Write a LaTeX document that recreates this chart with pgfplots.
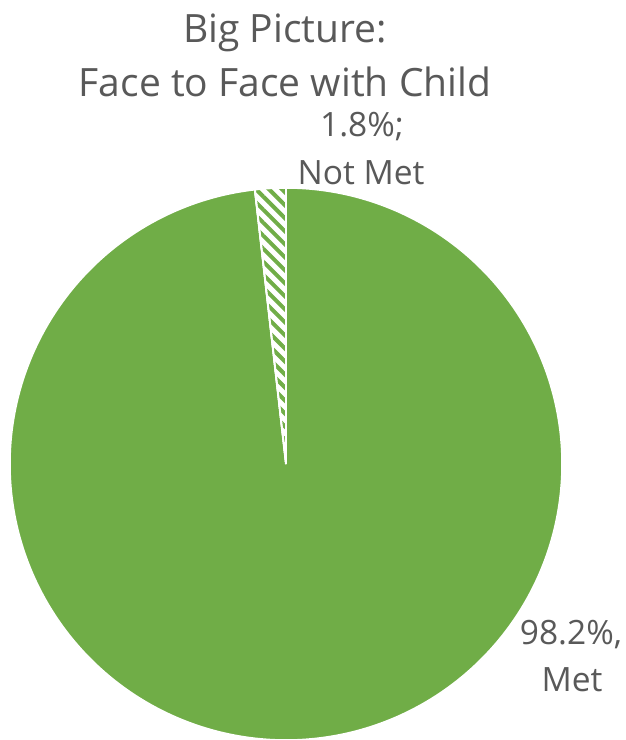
\documentclass[border=0pt]{standalone}
\usepackage{fontspec}
\setmainfont{Open Sans}
\usepackage{pgfplots}
\usepackage{pgfplotstable}
\pgfplotsset{compat=1.18}
\usetikzlibrary{patterns.meta}
\definecolor{pgreen}{HTML}{70AD47}
\definecolor{tgray}{HTML}{595959}
\pgfplotstableread{
label value
Met 98.2
NotMet 1.8
}\piedata
\begin{document}
\begin{tikzpicture}
\pgfplotstablegetelem{0}{value}\of\piedata \let\vmet\pgfplotsretval
\pgfplotstablegetelem{1}{value}\of\piedata \let\vnot\pgfplotsretval
\pgfmathsetmacro{\aStart}{90}
\pgfmathsetmacro{\aMid}{90+3.6*\vnot}
\pgfmathsetmacro{\aEnd}{\aMid+3.6*\vmet}
\begin{axis}[x=1bp, y=1bp, xmin=0, xmax=626, ymin=0, ymax=740,
  hide axis, clip=true]
\path (axis cs:0,0) rectangle (axis cs:626,740);
% Met slice
\addplot[fill=pgreen, draw=white, line width=1.5bp, domain=\aMid:\aEnd, samples=361, variable=\t]
  ({286+276*cos(\t)},{276+276*sin(\t)}) -- (axis cs:286,276) -- cycle;
% Not Met slice
\addplot[fill=white, draw=white, line width=1.5bp, domain=\aStart:\aMid, samples=20, variable=\t,
  postaction={pattern={Lines[angle=-45,distance=9.2bp,line width=4bp]}, pattern color=pgreen}]
  ({286+276*cos(\t)},{276+276*sin(\t)}) -- (axis cs:286,276) -- cycle;
\draw[white, line width=2bp] (axis cs:286,276) -- (axis cs:{286+276*cos(\aMid)},{276+276*sin(\aMid)});
\draw[white, line width=2bp] (axis cs:286,276) -- (axis cs:286,552);
% title
\node[anchor=base, text=tgray, font=\fontsize{39bp}{44bp}\selectfont, inner sep=0pt] at (axis cs:285,{740-43}) {Big Picture:};
\node[anchor=base, text=tgray, font=\fontsize{39bp}{44bp}\selectfont, inner sep=0pt] at (axis cs:285,{740-97}) {Face to Face with Child};
% labels
\node[anchor=base, text=tgray, font=\fontsize{33.5bp}{36bp}\selectfont, inner sep=0pt] at (axis cs:362,{740-137}) {\vnot\%;};
\node[anchor=base, text=tgray, font=\fontsize{33.5bp}{36bp}\selectfont, inner sep=0pt] at (axis cs:361,{740-185}) {Not Met};
\node[anchor=base, text=tgray, font=\fontsize{33.5bp}{36bp}\selectfont, inner sep=0pt] at (axis cs:571,{740-645}) {\vmet\%,};
\node[anchor=base, text=tgray, font=\fontsize{33.5bp}{36bp}\selectfont, inner sep=0pt] at (axis cs:572,{740-692}) {Met};
\end{axis}
\end{tikzpicture}
\end{document}
